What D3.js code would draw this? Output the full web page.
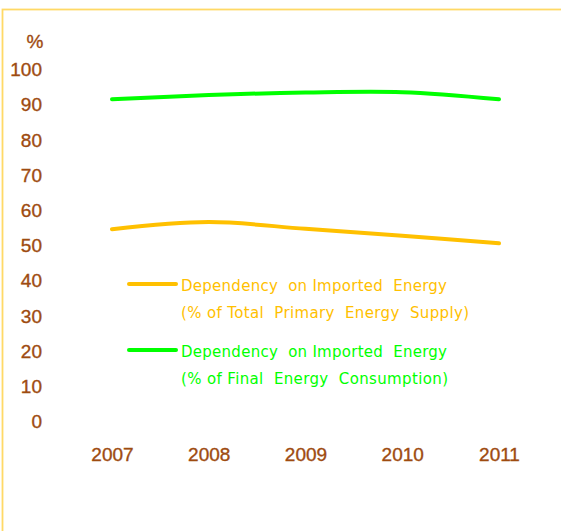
<!DOCTYPE html>
<html>
<head>
<meta charset="utf-8">
<script src="https://cdn.jsdelivr.net/npm/d3@7"></script>
<style>
  html, body { margin: 0; padding: 0; background: #fff; }
  svg { display: block; }
  text { white-space: pre; }
</style>
</head>
<body>
<script>
// Energy import dependency, 2007–2011 (%)
const years = ["2007", "2008", "2009", "2010", "2011"];
const primarySupply = [54.5, 56.5, 54.6, 52.6, 50.5];     // % of total primary energy supply
const finalConsumption = [91.4, 92.6, 93.3, 93.4, 91.4];  // % of final energy consumption
const yTicks = [0, 10, 20, 30, 40, 50, 60, 70, 80, 90, 100];
const seriesNames = [
  ["Dependency  on Imported  Energy", "(% of Total  Primary  Energy  Supply)"],
  ["Dependency  on Imported  Energy", "(% of Final  Energy  Consumption)"]
];
const seriesColors = ["#FFC000", "#00FF00"];

const W = 561, H = 531;
const svg = d3.select("body").append("svg").attr("width", W).attr("height", H);

// frame
svg.append("rect")
  .attr("x", 2.5).attr("y", 9.5)
  .attr("width", W + 10).attr("height", H + 10)
  .attr("fill", "none").attr("stroke", "#FFD966").attr("stroke-width", 1.8);

const x = d3.scalePoint().domain(years).range([112, 499]);
const y = d3.scaleLinear().domain([0, 100]).range([421, 69]);

const labelColor = "#9E4B10";
const tickFont = "'Liberation Sans', Arial, sans-serif";
const tickSize = 19;

function styleLabel(sel) {
  sel.attr("fill", labelColor).attr("font-size", tickSize)
    .attr("font-family", tickFont)
    .attr("stroke", labelColor).attr("stroke-width", 0.35);
}

// y axis labels (no axis line)
const yAxis = d3.axisLeft(y).tickValues(yTicks).tickSize(0).tickPadding(0);
const gy = svg.append("g").attr("transform", "translate(42,0)").call(yAxis);
gy.select(".domain").remove();
gy.selectAll("text").call(styleLabel).attr("dy", "0.35em");

svg.append("text").text("%")
  .attr("x", 35).attr("y", 41).attr("dy", "0.35em")
  .attr("text-anchor", "middle")
  .call(styleLabel);

// x axis labels
const xAxis = d3.axisBottom(x).tickSize(0).tickPadding(0);
const gx = svg.append("g").attr("transform", "translate(0,454)").call(xAxis);
gx.select(".domain").remove();
gx.selectAll("text").call(styleLabel).attr("dy", "0.35em");

// series lines
const line = d3.line()
  .x((d, i) => x(years[i]))
  .y(d => y(d))
  .curve(d3.curveCatmullRom.alpha(0.5));

[primarySupply, finalConsumption].forEach((vals, k) => {
  svg.append("path")
    .attr("d", line(vals))
    .attr("fill", "none")
    .attr("stroke", seriesColors[k])
    .attr("stroke-width", 4)
    .attr("stroke-linecap", "round")
    .attr("stroke-linejoin", "round");
});

// legend
const legendY = [284, 350];
const legendWidths = [[266, 288], [266, 267]];
seriesNames.forEach((lines, k) => {
  const g = svg.append("g");
  g.append("line")
    .attr("x1", 129).attr("x2", 176)
    .attr("y1", legendY[k]).attr("y2", legendY[k])
    .attr("stroke", seriesColors[k]).attr("stroke-width", 4)
    .attr("stroke-linecap", "round");
  lines.forEach((t, j) => {
    g.append("text").text(t)
      .attr("x", 181).attr("y", legendY[k] + 7 + j * 27)
      .attr("fill", seriesColors[k])
      .attr("font-size", 15)
      .attr("font-family", "'DejaVu Sans', sans-serif")
      .attr("textLength", legendWidths[k][j])
      .attr("lengthAdjust", "spacing");
  });
});
</script>
</body>
</html>
